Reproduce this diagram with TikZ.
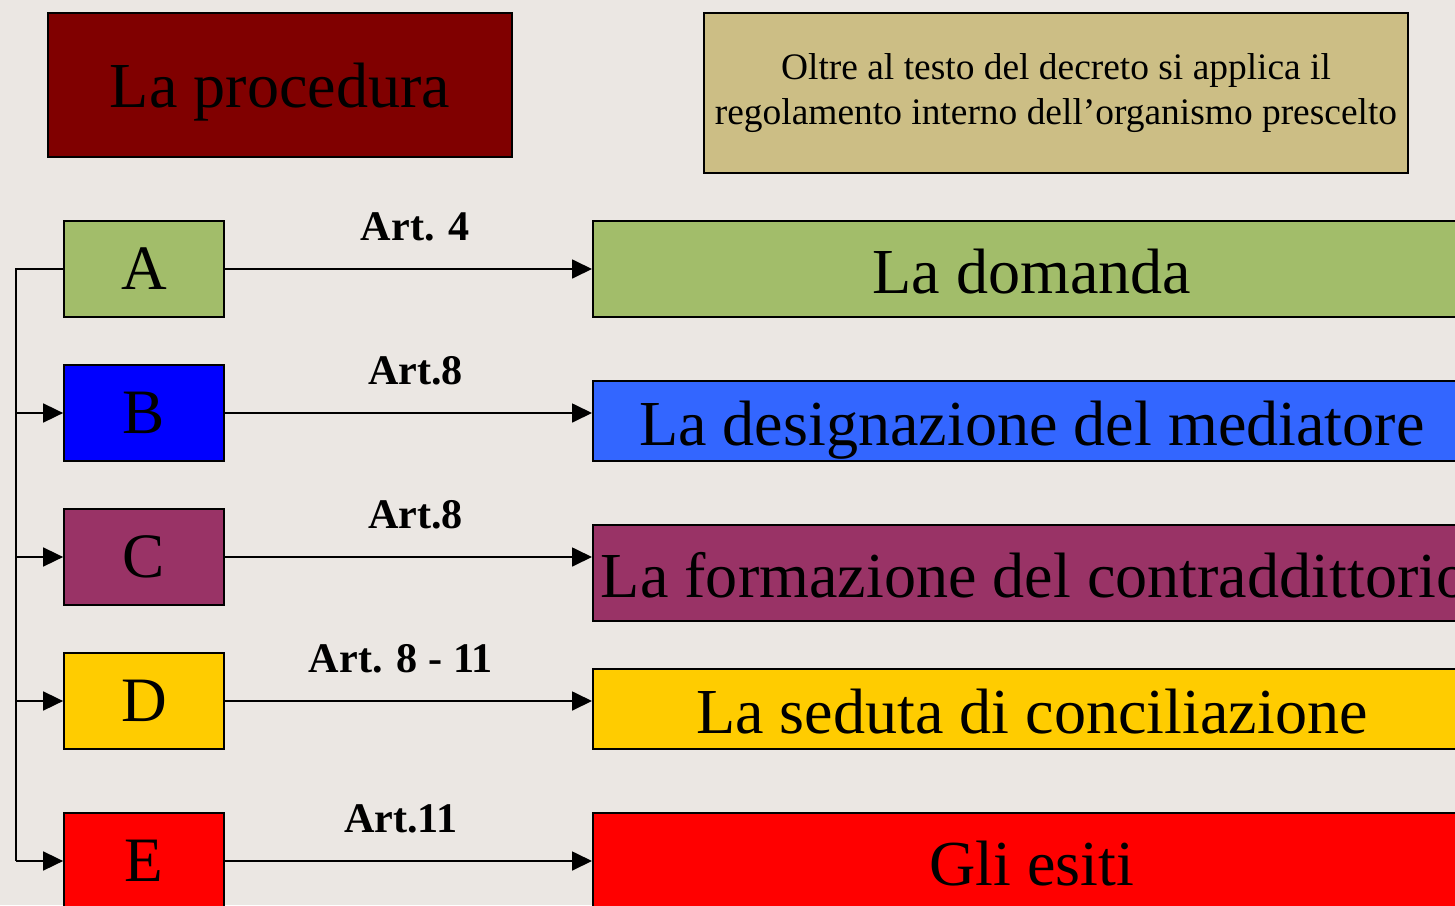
\documentclass[tikz,border=0pt]{standalone}
\usepackage{fontspec}
\setmainfont{Liberation Serif}
\usetikzlibrary{arrows.meta}
\definecolor{slidebg}{RGB}{235,231,227}
\definecolor{maroon}{RGB}{128,0,0}
\definecolor{tan}{RGB}{204,190,133}
\definecolor{leaf}{RGB}{162,189,106}
\definecolor{sky}{RGB}{51,102,255}
\definecolor{plum}{RGB}{153,51,102}
\definecolor{gold}{RGB}{255,204,0}
\begin{document}
\begin{tikzpicture}[
  letterbox/.style={draw, line width=1pt, minimum width=3.2cm, minimum height=1.92cm, font=\fontsize{36}{40}\selectfont},
  phasebox/.style={draw, line width=1pt, anchor=west, minimum width=17.56cm, text width=17.24cm, inner xsep=0.16cm, inner ysep=0pt, text height=1.2cm, text depth=0.24cm, align=flush center, font=\fontsize{36.5}{40}\selectfont},
  link/.style={-{Triangle[length=0.4cm, width=0.38cm]}, line width=1pt},
  artlabel/.style={above=0.42cm, font=\fontsize{24}{28}\selectfont\bfseries}]
  \useasboundingbox (0,0) rectangle (29.1,-18.1);
  \clip (0,0) rectangle (29.1,-18.1);
  \fill[slidebg] (0,0) rectangle (29.1,-18.1);
  % headers
  \node[draw, line width=1pt, fill=maroon, minimum width=9.28cm, minimum height=2.88cm, text height=1.22cm, text depth=0.3cm, font=\fontsize{36.5}{40}\selectfont] (title) at (5.6,-1.7) {La procedura};
  \node[draw, line width=1pt, fill=tan, minimum width=14.08cm, minimum height=3.2cm, align=center, font=\fontsize{21.3}{25.5}\selectfont] (note) at (21.12,-1.86) {Oltre al testo del decreto si applica il\\regolamento interno dell’organismo prescelto};
  % letters
  \node[letterbox, fill=leaf] (lA) at (2.88,-5.38) {A};
  \node[letterbox, fill=blue] (lB) at (2.88,-8.26) {B};
  \node[letterbox, fill=plum] (lC) at (2.88,-11.14) {C};
  \node[letterbox, fill=gold] (lD) at (2.88,-14.02) {D};
  \node[letterbox, fill=red] (lE) at (2.88,-17.22) {E};
  % phases
  \node[phasebox, fill=leaf, minimum height=1.92cm] (pA) at (11.84,-5.38) {La domanda};
  \node[phasebox, fill=sky, minimum height=1.6cm] (pB) at (11.84,-8.42) {La designazione del mediatore};
  \node[phasebox, fill=plum, minimum height=1.92cm] (pC) at (11.84,-11.46) {\mbox{La formazione del contraddittorio}};
  \node[phasebox, fill=gold, minimum height=1.6cm] (pD) at (11.84,-14.18) {La seduta di conciliazione};
  \node[phasebox, fill=red, minimum height=1.92cm] (pE) at (11.84,-17.22) {Gli esiti};
  % articles
  \draw[link] (lA.east) -- (lA.east -| pA.west) node[midway, artlabel, xshift=0.14cm] {Art. 4};
  \draw[link] (lB.east) -- (lB.east -| pB.west) node[midway, artlabel, xshift=0.14cm] {Art.8};
  \draw[link] (lC.east) -- (lC.east -| pC.west) node[midway, artlabel, xshift=0.14cm] {Art.8};
  \draw[link] (lD.east) -- (lD.east -| pD.west) node[midway, artlabel, xshift=-0.15cm] {Art. 8 - 11};
  \draw[link] (lE.east) -- (lE.east -| pE.west) node[midway, artlabel, xshift=-0.15cm] {Art.11};
  % bus on the left
  \coordinate (bus) at (0.32,-5.38);
  \draw[line width=1pt] (lA.west) -- (bus) -- (bus |- lE.west);
  \foreach \n in {lB,lC,lD,lE}
    \draw[link] (bus |- \n.west) -- (\n.west);
\end{tikzpicture}
\end{document}
